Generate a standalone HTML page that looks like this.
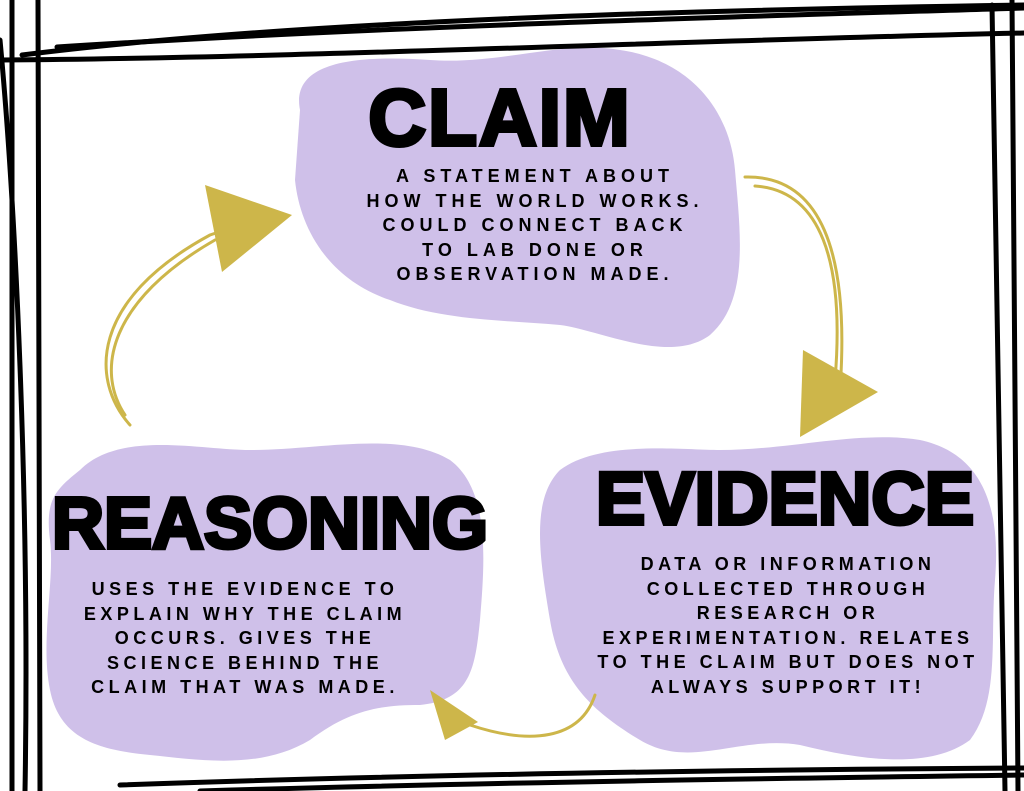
<!DOCTYPE html>
<html><head><style>
body{margin:0;width:1024px;height:791px;overflow:hidden;background:#fff;position:relative;font-family:"Liberation Sans",sans-serif}
svg{position:absolute;left:0;top:0}
.t{position:absolute;font-weight:900;color:#000;text-align:center;white-space:nowrap;-webkit-text-stroke:4px #000;letter-spacing:2px;line-height:1}
.b{position:absolute;font-weight:bold;color:#000;text-align:center;white-space:nowrap;font-size:18px;letter-spacing:4.5px;line-height:24.5px}
</style></head><body>
<svg width="1024" height="791" viewBox="0 0 1024 791">
<g fill="#cfc0e9">
<path d="M300 110 C290 60 360 55 430 60 C500 65 560 40 620 50 C690 60 730 110 735 170 C740 230 750 300 710 335 C670 365 600 330 560 325 C500 320 440 320 390 300 C330 280 300 230 295 180 Z"/>
<path d="M560 470 C600 440 680 450 720 450 C790 450 860 430 920 440 C990 455 1000 520 995 580 C990 640 1000 700 970 740 C930 770 860 760 800 745 C740 735 690 770 640 740 C590 710 560 680 550 620 C540 560 530 500 560 470 Z"/>
<path d="M80 470 C120 430 200 450 250 450 C320 450 400 430 450 460 C490 490 485 560 480 620 C475 670 470 700 420 705 C380 705 350 710 310 740 C260 770 200 760 150 755 C100 750 60 740 50 690 C40 640 55 580 50 540 C45 500 55 490 80 470 Z"/>
</g>
<g stroke="#000" stroke-width="5" fill="none" stroke-linecap="round">
<path d="M22 55 C300 20 700 10 1024 5"/>
<path d="M57 47 C400 25 800 15 1024 8"/>
<path d="M0 60 C300 58 700 40 1024 33"/>
<path d="M38 0 L40 791"/><path d="M12 0 L12 791"/><path d="M0 40 C15 200 30 500 25 791"/>
<path d="M992 5 L1005 791"/><path d="M1012 0 L1018 791"/>
<path d="M120 785 C400 775 700 770 1024 768"/>
<path d="M200 791 C500 782 800 778 1024 775"/>
</g>
<g stroke="#cdb64a" stroke-width="3" fill="none" stroke-linecap="round">
<path d="M745 177 C820 175 850 250 840 390"/>
<path d="M755 186 C820 190 845 260 835 380"/>
<path d="M130 425 C90 380 90 300 210 235 L270 215"/>
<path d="M125 415 C95 370 110 300 215 240"/>
<path d="M595 695 C580 740 530 745 470 725"/>
</g>
<g fill="#cdb64a">
<path d="M803 350 L878 392 L800 437 Z"/>
<path d="M205 185 L292 215 L222 272 Z"/>
<path d="M430 690 L478 722 L445 740 Z"/>
</g>
</svg>
<div class="t" style="left:330px;top:78px;width:340px;font-size:80px">CLAIM</div>
<div class="b" style="left:330px;top:164px;width:410px;letter-spacing:5px">A STATEMENT ABOUT<br>HOW THE WORLD WORKS.<br>COULD CONNECT BACK<br>TO LAB DONE OR<br>OBSERVATION MADE.</div>
<div class="t" style="left:590px;top:462px;width:390px;font-size:74px;letter-spacing:0">EVIDENCE</div>
<div class="b" style="left:568px;top:552px;width:440px">DATA OR INFORMATION<br>COLLECTED THROUGH<br>RESEARCH OR<br>EXPERIMENTATION. RELATES<br>TO THE CLAIM BUT DOES NOT<br>ALWAYS SUPPORT IT!</div>
<div class="t" style="left:40px;top:488px;width:460px;font-size:72px;letter-spacing:0">REASONING</div>
<div class="b" style="left:15px;top:577px;width:460px">USES THE EVIDENCE TO<br>EXPLAIN WHY THE CLAIM<br>OCCURS. GIVES THE<br>SCIENCE BEHIND THE<br>CLAIM THAT WAS MADE.</div>
</body></html>
